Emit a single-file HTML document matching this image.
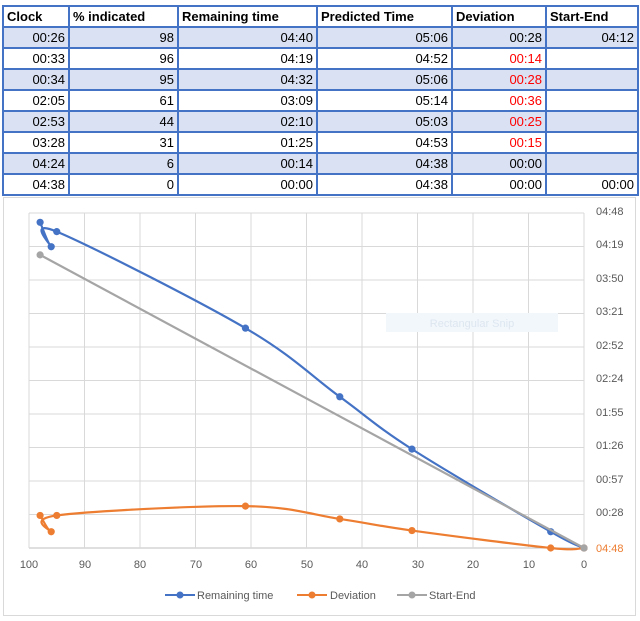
<!DOCTYPE html>
<html><head><style>
body{margin:0;width:640px;height:621px;background:#fff;position:relative;overflow:hidden;font-family:"Liberation Sans",sans-serif}
table{position:absolute;left:2px;top:5px;border-collapse:collapse;font-size:13px}
td{border:2px solid #4472c4;height:19px;padding:0 3px;text-align:right;line-height:19px}
tr.h td{text-align:left;font-weight:bold}
tr.s td{background:#d9e1f2}
.r{color:#f00}
</style></head><body>
<table>
<colgroup><col style="width:66px"><col style="width:109px"><col style="width:139px"><col style="width:135px"><col style="width:94px"><col style="width:92px"></colgroup>
<tr class="h"><td>Clock</td><td>% indicated</td><td>Remaining time</td><td>Predicted Time</td><td>Deviation</td><td>Start-End</td></tr>
<tr class="s"><td>00:26</td><td>98</td><td>04:40</td><td>05:06</td><td>00:28</td><td>04:12</td></tr>
<tr><td>00:33</td><td>96</td><td>04:19</td><td>04:52</td><td class="r">00:14</td><td></td></tr>
<tr class="s"><td>00:34</td><td>95</td><td>04:32</td><td>05:06</td><td class="r">00:28</td><td></td></tr>
<tr><td>02:05</td><td>61</td><td>03:09</td><td>05:14</td><td class="r">00:36</td><td></td></tr>
<tr class="s"><td>02:53</td><td>44</td><td>02:10</td><td>05:03</td><td class="r">00:25</td><td></td></tr>
<tr><td>03:28</td><td>31</td><td>01:25</td><td>04:53</td><td class="r">00:15</td><td></td></tr>
<tr class="s"><td>04:24</td><td>6</td><td>00:14</td><td>04:38</td><td>00:00</td><td></td></tr>
<tr><td>04:38</td><td>0</td><td>00:00</td><td>04:38</td><td>00:00</td><td>00:00</td></tr>
</table>
<svg id="c" style="position:absolute;left:0;top:0" width="640" height="621" font-family="Liberation Sans, sans-serif" font-size="11" fill="#595959">
<rect x="3.5" y="197.5" width="632" height="418" fill="#fff" stroke="#d9d9d9"/>
<g id="grid" stroke="#d9d9d9" stroke-width="1"></g>
<rect x="386" y="313" width="172" height="19" fill="#f2f7fc"/>
<text x="472" y="327" text-anchor="middle" fill="#dde6ef" font-size="11">Rectangular Snip</text>
<g text-anchor="start">
<text x="596" y="215">04:48</text><text x="596" y="248">04:19</text><text x="596" y="282">03:50</text><text x="596" y="315">03:21</text><text x="596" y="349">02:52</text><text x="596" y="382">02:24</text><text x="596" y="416">01:55</text><text x="596" y="449">01:26</text><text x="596" y="483">00:57</text><text x="596" y="516">00:28</text><text x="596" y="552" fill="#ed7d31">04:48</text>
</g>
<g text-anchor="middle">
<text x="29" y="568">100</text><text x="85" y="568">90</text><text x="140" y="568">80</text><text x="196" y="568">70</text><text x="251" y="568">60</text><text x="307" y="568">50</text><text x="362" y="568">40</text><text x="418" y="568">30</text><text x="473" y="568">20</text><text x="529" y="568">10</text><text x="584" y="568">0</text>
</g>
<g id="series"></g>
<line x1="165" y1="595" x2="195" y2="595" stroke="#4472c4" stroke-width="2"/><circle cx="180" cy="595" r="3.5" fill="#4472c4"/>
<text x="197" y="599">Remaining time</text>
<line x1="297" y1="595" x2="327" y2="595" stroke="#ed7d31" stroke-width="2"/><circle cx="312" cy="595" r="3.5" fill="#ed7d31"/>
<text x="330" y="599">Deviation</text>
<line x1="397" y1="595" x2="427" y2="595" stroke="#a5a5a5" stroke-width="2"/><circle cx="412" cy="595" r="3.5" fill="#a5a5a5"/>
<text x="429" y="599">Start-End</text>
</svg>
<script>
function X(p){return 584-p*5.55}
function Y(v){return 548-v*335/288}
var g=document.getElementById("grid"),h="";
for(var i=0;i<=10;i++){var y=213+i*33.5;h+='<line x1="29" x2="584" y1="'+y+'" y2="'+y+'" stroke="'+(i==10?'#bfbfbf':'#d9d9d9')+'"/>';}
for(var i=0;i<=10;i++){var x=29+i*55.5;h+='<line y1="213" y2="548" x1="'+x+'" x2="'+x+'"/>';}
g.innerHTML=h;
function path(pts){var p=pts.map(function(a){return [X(a[0]),Y(a[1])]});var d="M"+p[0][0]+","+p[0][1];var t=1/6;
for(var i=0;i<p.length-1;i++){var p0=p[i-1]||p[i],p1=p[i],p2=p[i+1],p3=p[i+2]||p2;
d+=" C"+(p1[0]+(p2[0]-p0[0])*t)+","+(p1[1]+(p2[1]-p0[1])*t)+" "+(p2[0]-(p3[0]-p1[0])*t)+","+(p2[1]-(p3[1]-p1[1])*t)+" "+p2[0]+","+p2[1];}
return [d,p];}
var S=[[[[98,252],[0,0]],"#a5a5a5"],[[[98,280],[96,259],[95,272],[61,189],[44,130],[31,85],[6,14],[0,0]],"#4472c4"],[[[98,28],[96,14],[95,28],[61,36],[44,25],[31,15],[6,0],[0,0]],"#ed7d31"]];
var out="";
[1,2,0].forEach(function(k){var s=S[k],r=path(s[0]);out+='<path d="'+r[0]+'" fill="none" stroke="'+s[1]+'" stroke-width="2.2"/>';r[1].forEach(function(q){out+='<circle cx="'+q[0]+'" cy="'+q[1]+'" r="3.6" fill="'+s[1]+'"/>';});});
document.getElementById("series").innerHTML=out;
</script>
</body></html>
